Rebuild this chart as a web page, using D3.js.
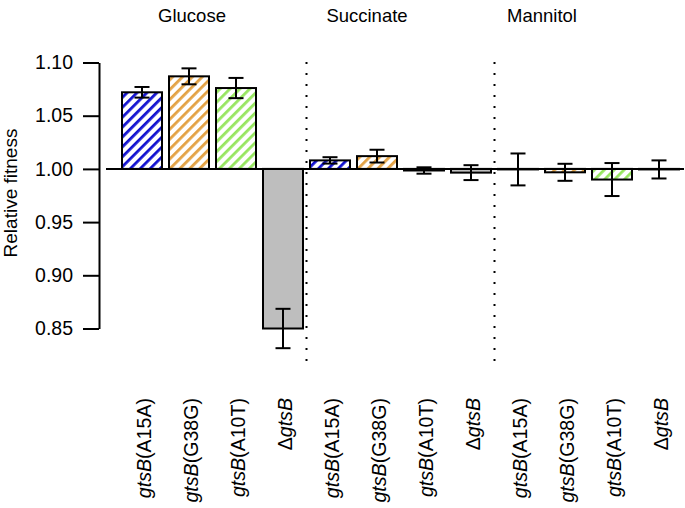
<!DOCTYPE html>
<html><head><meta charset="utf-8">
<script src="https://cdn.jsdelivr.net/npm/d3@7"></script>
<style>body{margin:0;background:#fff}svg{display:block;font-family:"Liberation Sans",Arial,sans-serif}</style>
</head><body><svg id="c" width="685" height="508"></svg>
<script>
const groups = ["Glucose","Succinate","Mannitol"];
const strains = ["A15A","G38G","A10T","delta"];
const strainColors = ["#1212d0","#e3a244","#97e660","#bebebe"];
const hatched = [true,true,true,false];
const glucoseMeans   = [1.072, 1.087, 1.076, 0.850];
const glucoseErr     = [0.005, 0.0075, 0.0095, 0.0185];
const succinateMeans = [1.008, 1.012, 0.9985, 0.9965];
const succinateErr   = [0.003, 0.006, 0.003, 0.007];
const mannitolMeans  = [0.9995, 0.9968, 0.990, 0.9995];
const mannitolErr    = [0.015, 0.008, 0.0155, 0.0085];
const yTicks = [0.85, 0.90, 0.95, 1.00, 1.05, 1.10];

const means = [glucoseMeans, succinateMeans, mannitolMeans];
const errs = [glucoseErr, succinateErr, mannitolErr];
const data = [];
groups.forEach((g,gi)=>strains.forEach((s,si)=>data.push({id:g+"-"+s,group:g,gi,si,strain:s,v:means[gi][si],e:errs[gi][si]})));

const svg = d3.select("#c");
const x = d3.scaleBand().domain(data.map(d=>d.id)).range([118.5,682.5]).paddingInner(7/47).paddingOuter(3.5/47);
const y = d3.scaleLinear().domain([0.85,1.10]).range([328.5,62.5]);

const defs = svg.append("defs");
strainColors.forEach((c,i)=>{
  if(!hatched[i]) return;
  const p = defs.append("pattern").attr("id","h"+i).attr("patternUnits","userSpaceOnUse")
    .attr("width",7).attr("height",7).attr("patternTransform","rotate(45)");
  p.append("rect").attr("width",7).attr("height",7).attr("fill","#fff");
  p.append("rect").attr("x",0).attr("width",2.8).attr("height",7).attr("fill",c);
});

// dotted group separators
groups.slice(0,-1).forEach((g,gi)=>{
  const last = data.filter(d=>d.gi===gi).pop();
  const xs = x(last.id)+x.bandwidth()+x.step()*x.paddingInner()/2;
  svg.append("line").attr("x1",xs).attr("x2",xs).attr("y1",62).attr("y2",362)
    .attr("stroke","#000").attr("stroke-width",2).attr("stroke-dasharray","2,9");
});

// bars
svg.append("g").selectAll("rect").data(data).join("rect")
  .attr("x",d=>x(d.id)).attr("width",x.bandwidth())
  .attr("y",d=>Math.min(y(d.v),y(1))).attr("height",d=>Math.abs(y(d.v)-y(1)))
  .attr("fill",d=>hatched[d.si]?"url(#h"+d.si+")":strainColors[d.si])
  .attr("stroke","#000").attr("stroke-width",2);

// baseline
svg.append("line").attr("x1",106).attr("x2",684).attr("y1",y(1)).attr("y2",y(1)).attr("stroke","#000").attr("stroke-width",2);

// error bars
const eb = svg.append("g").attr("stroke","#000").attr("stroke-width",2);
data.forEach(d=>{
  const cx = x(d.id)+x.bandwidth()/2;
  eb.append("line").attr("x1",cx).attr("x2",cx).attr("y1",y(d.v-d.e)).attr("y2",y(d.v+d.e));
  [d.v-d.e,d.v+d.e].forEach(v=>eb.append("line").attr("x1",cx-7.5).attr("x2",cx+7.5).attr("y1",y(v)).attr("y2",y(v)));
});

// y axis
const ax = svg.append("g").attr("transform","translate(99,0)")
  .call(d3.axisLeft(y).tickValues(yTicks).tickFormat(d3.format(".2f")).tickSize(16).tickSizeOuter(0).tickPadding(10));
ax.select(".domain").attr("stroke-width",2);
ax.selectAll(".tick line").attr("stroke-width",2);
ax.selectAll("text").attr("font-size",19.5).attr("font-family","Liberation Sans, Arial, sans-serif").attr("fill","#000");

svg.append("text").attr("transform","translate(17,193) rotate(-90)").attr("text-anchor","middle")
  .attr("font-size",19).text("Relative fitness");

// group titles
groups.forEach((g,gi)=>{
  svg.append("text").attr("x",192+gi*175).attr("y",22).attr("text-anchor","middle").attr("font-size",18.5).text(g);
});

// x labels
data.forEach(d=>{
  const cx = x(d.id)+x.bandwidth()/2+2;
  const t = svg.append("text").attr("transform",`translate(${cx},398) rotate(-90)`)
    .attr("text-anchor","end").attr("dy","0.35em").attr("font-size",19.6);
  if(d.strain==="delta"){
    t.append("tspan").text("Δ");
    t.append("tspan").attr("font-style","italic").text("gtsB");
  } else {
    t.append("tspan").attr("font-style","italic").text("gtsB");
    t.append("tspan").text("("+d.strain+")");
  }
});
</script></body></html>
